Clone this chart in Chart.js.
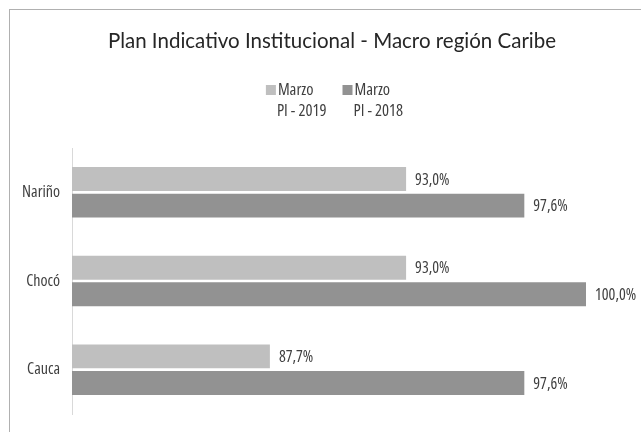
<!DOCTYPE html>
<html>
<head>
<meta charset="utf-8">
<script src="https://cdn.jsdelivr.net/npm/chart.js@4/dist/chart.umd.min.js"></script>
<style>
  html, body { margin: 0; padding: 0; background: #fff; overflow: hidden; }
  #box {
    position: absolute; left: 9px; top: 9px;
    width: 646px; height: 440px;
    border: 1px solid #b0b0b0;
  }
  #box canvas { display: block; }
</style>
</head>
<body>
<div id="box"><canvas id="chart" width="646" height="440"></canvas></div>
<script>
// Datos
const regiones = ['Nariño', 'Chocó', 'Cauca'];
const marzo2019 = [93.0, 93.0, 87.7];
const marzo2018 = [97.6, 100.0, 97.6];
const etiquetas = [['Marzo', 'PI - 2019'], ['Marzo', 'PI - 2018']];
const colores = ['#bfbfbf', '#929292'];
const titulo = 'Plan Indicativo Institucional - Macro región Caribe';
const ejeMin = 80;
const ejeMax = 100;

// Open Sans estrecha se parece a la Calibri del original
const FAMILY = "'Open Sans', sans-serif";
const STRETCH = 'condensed';
const TEXTO = '#404040';

function fuente(size) {
    return STRETCH + ' ' + size + 'px ' + FAMILY;
}

// porcentaje con coma decimal, como en el original
function pct(v) {
    return v.toFixed(1).replace('.', ',') + '%';
}

// valores a la derecha de cada barra
const valoresPlugin = {
    id: 'valores',
    afterDatasetsDraw(chart) {
        const ctx = chart.ctx;
        ctx.save();
        ctx.font = fuente(16);
        ctx.fillStyle = TEXTO;
        ctx.textAlign = 'left';
        ctx.textBaseline = 'middle';
        chart.data.datasets.forEach((ds, i) => {
            chart.getDatasetMeta(i).data.forEach((bar, j) => {
                ctx.fillText(pct(ds.data[j]), bar.x + 9, bar.y + 1);
            });
        });
        ctx.restore();
    }
};

// titulo y leyenda de dos lineas (la leyenda de Chart.js las recorta)
const cabeceraPlugin = {
    id: 'cabecera',
    afterDraw(chart) {
        const ctx = chart.ctx;
        const cx = chart.width / 2;
        ctx.save();
        ctx.textBaseline = 'alphabetic';

        ctx.font = "20.5px Lato, sans-serif";
        ctx.fillStyle = '#262626';
        ctx.textAlign = 'center';
        ctx.fillText(titulo, cx - 1, 38);

        ctx.font = fuente(16.5);
        ctx.textAlign = 'left';
        const box = 10, gap = 2, sep = 15;
        const anchos = chart.data.datasets.map(ds =>
            box + gap + Math.max(...ds.label.map(t => ctx.measureText(t).width)));
        const total = anchos.reduce((a, b) => a + b, 0) + sep * (anchos.length - 1);
        let x = cx - total / 2 + 2;
        chart.data.datasets.forEach((ds, i) => {
            ctx.fillStyle = ds.backgroundColor;
            ctx.fillRect(x, 75, box, box);
            ctx.fillStyle = TEXTO;
            ctx.fillText(ds.label[0], x + box + gap, 85);
            ctx.fillText(ds.label[1], x + box + gap - 1, 105.5);
            x += anchos[i] + sep;
        });
        ctx.restore();
    }
};

new Chart(document.getElementById('chart'), {
    type: 'bar',
    data: {
        labels: regiones,
        datasets: [
            { label: etiquetas[0], data: marzo2019, backgroundColor: colores[0] },
            { label: etiquetas[1], data: marzo2018, backgroundColor: colores[1] },
        ],
    },
    options: {
        indexAxis: 'y',
        responsive: false,
        animation: false,
        categoryPercentage: 0.6,
        barPercentage: 0.9,
        layout: { padding: { left: 0, right: 70, top: 138, bottom: 36 } },
        scales: {
            x: { display: false, min: ejeMin, max: ejeMax },
            y: {
                grid: { display: false },
                border: { color: '#d9d9d9' },
                ticks: {
                    color: TEXTO,
                    // el "peso" lleva el ancho estrecho al texto de la fuente
                    font: { family: FAMILY, size: 16, weight: STRETCH },
                    padding: 4,
                },
                afterFit(scale) { scale.width = 62; },
            },
        },
        plugins: {
            title: { display: false },
            legend: { display: false },
            tooltip: { enabled: false },
        },
    },
    plugins: [valoresPlugin, cabeceraPlugin],
});
</script>
</body>
</html>
